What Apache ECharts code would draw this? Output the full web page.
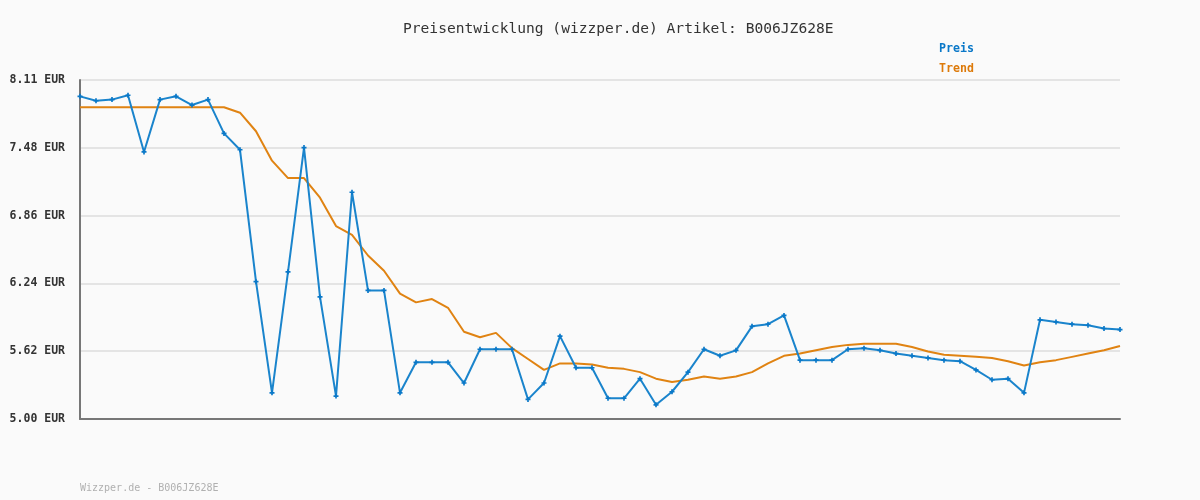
<!DOCTYPE html>
<html>
<head>
<meta charset="utf-8">
<script src="https://cdn.jsdelivr.net/npm/echarts@6/dist/echarts.min.js"></script>
<style>
html,body{margin:0;padding:0;background:#fafafa;}
#chart{width:1200px;height:500px;}
</style>
</head>
<body>
<div id="chart"></div>
<script>
const titleText = 'Preisentwicklung (wizzper.de) Artikel: B006JZ628E';
const footerText = 'Wizzper.de - B006JZ628E';
const yTickLabels = ['5.00 EUR', '5.62 EUR', '6.24 EUR', '6.86 EUR', '7.48 EUR', '8.11 EUR'];
const preis = [7.96, 7.92, 7.93, 7.97, 7.45, 7.93, 7.96, 7.88, 7.93, 7.62,
  7.47, 6.26, 5.24, 6.35, 7.49, 6.12, 5.21, 7.08, 6.18, 6.18,
  5.24, 5.52, 5.52, 5.52, 5.33, 5.64, 5.64, 5.64, 5.18, 5.33,
  5.76, 5.47, 5.47, 5.19, 5.19, 5.37, 5.13, 5.25, 5.43, 5.64,
  5.58, 5.63, 5.85, 5.87, 5.95, 5.54, 5.54, 5.54, 5.64, 5.65,
  5.63, 5.60, 5.58, 5.56, 5.54, 5.53, 5.45, 5.36, 5.37, 5.24,
  5.91, 5.89, 5.87, 5.86, 5.83, 5.82];
const trend = [7.86, 7.86, 7.86, 7.86, 7.86, 7.86, 7.86, 7.86, 7.86, 7.86,
  7.81, 7.64, 7.37, 7.21, 7.21, 7.03, 6.77, 6.69, 6.50, 6.36,
  6.15, 6.07, 6.10, 6.02, 5.80, 5.75, 5.79, 5.65, 5.55, 5.45,
  5.51, 5.51, 5.50, 5.47, 5.46, 5.43, 5.37, 5.34, 5.36, 5.39,
  5.37, 5.39, 5.43, 5.51, 5.58, 5.60, 5.63, 5.66, 5.68, 5.69,
  5.69, 5.69, 5.66, 5.62, 5.59, 5.58, 5.57, 5.56, 5.53, 5.49,
  5.52, 5.54, 5.57, 5.60, 5.63, 5.67];
const categories = preis.map((_, i) => String(i + 1));

const mono = '"DejaVu Sans Mono", "Liberation Mono", monospace';
const chart = echarts.init(document.getElementById('chart'), null, {renderer: 'canvas'});
chart.setOption({
  backgroundColor: '#fafafa',
  animation: false,
  title: [{
    text: titleText, left: 398, top: 17,
    textStyle: {fontFamily: mono, fontSize: 14.6, fontWeight: 'normal', color: '#333'}
  }, {
    text: footerText, left: 75, top: 478,
    textStyle: {fontFamily: mono, fontSize: 10, fontWeight: 'normal', color: '#b0b0b0'}
  }],
  legend: {
    orient: 'vertical', left: 929, top: 37, itemGap: 7, icon: 'none', itemWidth: 0,
    selectedMode: false,
    data: [
      {name: 'Preis', textStyle: {color: '#0a78c8'}},
      {name: 'Trend', textStyle: {color: '#dd7a0a'}}
    ],
    textStyle: {fontFamily: mono, fontSize: 11.6, fontWeight: 'bold'}
  },
  grid: {left: 80, right: 80, top: 80, bottom: 81, containLabel: false},
  xAxis: {
    type: 'category', data: categories, boundaryGap: false,
    axisLine: {lineStyle: {color: '#777', width: 2}},
    axisTick: {show: false}, axisLabel: {show: false}, splitLine: {show: false}
  },
  yAxis: {
    type: 'value', min: 5, max: 8.11, interval: 0.622,
    axisLine: {show: true, lineStyle: {color: '#777', width: 2}},
    axisTick: {show: false},
    splitLine: {lineStyle: {color: '#e4e4e4', width: 2}},
    axisLabel: {
      margin: 15, color: '#333', fontFamily: mono, fontSize: 11.5, fontWeight: 'bold',
      formatter: (v, i) => yTickLabels[i]
    }
  },
  series: [{
    name: 'Trend', type: 'line', data: trend, symbol: 'none', z: 2,
    lineStyle: {color: '#e08312', width: 2}, itemStyle: {color: '#dd7a0a'}
  }, {
    name: 'Preis', type: 'line', data: preis, z: 3,
    symbol: 'path://M2,0H4V2H6V4H4V6H2V4H0V2H2Z', symbolSize: 5,
    lineStyle: {color: '#1a84cc', width: 2},
    itemStyle: {color: '#0a78c8'}
  }]
});
</script>
</body>
</html>
